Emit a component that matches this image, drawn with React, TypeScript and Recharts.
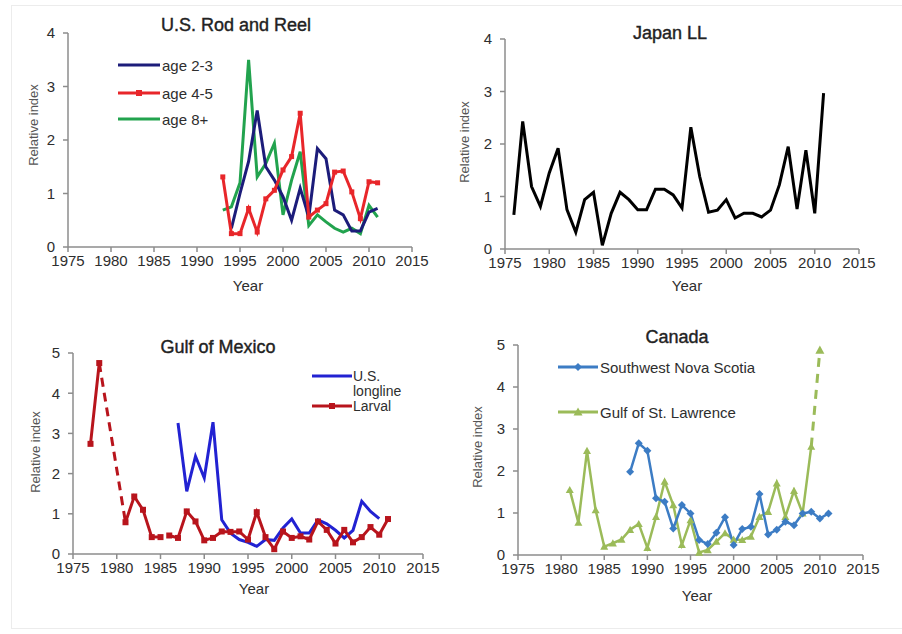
import React from 'react';
import { LineChart, Line, XAxis, YAxis } from 'recharts';

const FONT = '"Liberation Sans", Arial, sans-serif';
const yearTicks = [1975, 1980, 1985, 1990, 1995, 2000, 2005, 2010, 2015];

// U.S. Rod and Reel
const rodYears = [1993, 1994, 1995, 1996, 1997, 1998, 1999, 2000, 2001, 2002, 2003, 2004, 2005, 2006, 2007, 2008, 2009, 2010, 2011];
const rodAge23 = [null, 0.35, 1.0, 1.6, 2.55, 1.5, 1.25, 0.94, 0.5, 1.1, 0.56, 1.84, 1.65, 0.69, 0.6, 0.3, 0.3, 0.65, 0.72];
const rodAge45 = [1.31, 0.25, 0.25, 0.72, 0.28, 0.9, 1.06, 1.44, 1.69, 2.5, 0.56, 0.69, 0.81, 1.4, 1.42, 1.03, 0.53, 1.22, 1.2];
const rodAge8 = [0.69, 0.75, 1.2, 3.5, 1.31, 1.56, 1.94, 0.6, 1.25, 1.78, 0.4, 0.6, 0.47, 0.35, 0.28, 0.35, 0.25, 0.78, 0.56];

// Japan LL
const japanYears = [1976, 1977, 1978, 1979, 1980, 1981, 1982, 1983, 1984, 1985, 1986, 1987, 1988, 1989, 1990, 1991, 1992, 1993, 1994, 1995, 1996, 1997, 1998, 1999, 2000, 2001, 2002, 2003, 2004, 2005, 2006, 2007, 2008, 2009, 2010, 2011];
const japanLL = [0.65, 2.43, 1.19, 0.81, 1.45, 1.92, 0.75, 0.32, 0.94, 1.08, 0.07, 0.68, 1.08, 0.94, 0.75, 0.75, 1.14, 1.14, 1.03, 0.78, 2.32, 1.38, 0.7, 0.74, 0.94, 0.59, 0.68, 0.68, 0.61, 0.74, 1.22, 1.95, 0.76, 1.88, 0.68, 2.97];

// Gulf of Mexico
const gulfYears = [1977, 1978, 1979, 1980, 1981, 1982, 1983, 1984, 1985, 1986, 1987, 1988, 1989, 1990, 1991, 1992, 1993, 1994, 1995, 1996, 1997, 1998, 1999, 2000, 2001, 2002, 2003, 2004, 2005, 2006, 2007, 2008, 2009, 2010, 2011];
const gulfLarval = [2.74, 4.75, null, null, 0.79, 1.43, 1.1, 0.42, 0.42, 0.46, 0.4, 1.06, 0.81, 0.34, 0.4, 0.56, 0.55, 0.56, 0.36, 1.04, 0.42, 0.12, 0.56, 0.4, 0.44, 0.36, 0.81, 0.6, 0.26, 0.6, 0.29, 0.42, 0.67, 0.48, 0.87];
const gulfLongline = [null, null, null, null, null, null, null, null, null, null, 3.26, 1.56, 2.43, 1.89, 3.28, 0.85, 0.52, 0.36, 0.29, 0.19, 0.36, 0.34, 0.65, 0.87, 0.52, 0.52, 0.85, 0.75, 0.59, 0.4, 0.59, 1.31, 1.06, 0.88, null];
const larvalBreakYear = 1986; // survey series restarts here

// Canada
const canadaYears = [1981, 1982, 1983, 1984, 1985, 1986, 1987, 1988, 1989, 1990, 1991, 1992, 1993, 1994, 1995, 1996, 1997, 1998, 1999, 2000, 2001, 2002, 2003, 2004, 2005, 2006, 2007, 2008, 2009, 2010, 2011];
const novaScotia = [null, null, null, null, null, null, null, 1.98, 2.66, 2.48, 1.35, 1.27, 0.63, 1.19, 0.99, 0.36, 0.26, 0.53, 0.9, 0.24, 0.62, 0.67, 1.45, 0.49, 0.6, 0.79, 0.71, 0.99, 1.03, 0.87, 0.99];
const stLawrence = [1.55, 0.77, 2.48, 1.07, 0.2, 0.28, 0.37, 0.6, 0.74, 0.17, 0.91, 1.75, 1.19, 0.24, 0.83, 0.06, 0.12, 0.32, 0.52, 0.37, 0.36, 0.44, 0.91, 1.03, 1.71, 0.91, 1.53, 0.99, 2.58, 4.88, null];
const lawrenceDashFrom = 2009; // last point is provisional

const rodData = rodYears.map((year, i) => ({ year, age23: rodAge23[i], age45: rodAge45[i], age8: rodAge8[i] }));
const japanData = japanYears.map((year, i) => ({ year, ll: japanLL[i] }));

// larval: solid pieces around the missing years, dashed bridge across them
const gapFirst = gulfLarval.indexOf(null);
const gapLast = gulfLarval.lastIndexOf(null);
const gulfData = gulfYears.map((year, i) => ({
  year,
  longline: gulfLongline[i],
  larvalA: year < larvalBreakYear ? gulfLarval[i] : null,
  larvalB: year >= larvalBreakYear ? gulfLarval[i] : null,
  larvalGap: i === gapFirst - 1 || i === gapLast + 1 ? gulfLarval[i] : null,
}));

const canadaData = canadaYears.map((year, i) => ({
  year,
  nova: novaScotia[i],
  lawrence: year <= lawrenceDashFrom ? stLawrence[i] : null,
  lawrenceDash: year >= lawrenceDashFrom ? stLawrence[i] : null,
}));

const C = {
  navy: '#1c1c7a',
  red: '#e8262a',
  green: '#22a34e',
  gulfBlue: '#2222d2',
  larval: '#b8141c',
  novaBlue: '#3c7cc4',
  lawrence: '#9bbb59',
};

const squareDot = (color: string, size: number) => (p: any) => {
  if (p.cy == null || p.value == null) return <g key={p.index} />;
  return <rect key={p.index} x={p.cx - size / 2} y={p.cy - size / 2} width={size} height={size} fill={color} />;
};
const diamondDot = (color: string, r: number) => (p: any) => {
  if (p.cy == null || p.value == null) return <g key={p.index} />;
  const { cx, cy } = p;
  return <polygon key={p.index} points={`${cx},${cy - r} ${cx + r},${cy} ${cx},${cy + r} ${cx - r},${cy}`} fill={color} />;
};
const triangleDot = (color: string, r: number, minYear = 0) => (p: any) => {
  if (p.cy == null || p.value == null || p.payload.year <= minYear) return <g key={p.index} />;
  const { cx, cy } = p;
  return <polygon key={p.index} points={`${cx},${cy - r} ${cx + r},${cy + r * 0.8} ${cx - r},${cy + r * 0.8}`} fill={color} />;
};

type Plot = { x0: number; x1: number; y0: number; y1: number };

function Panel({ plot, yMax, data, children }: { plot: Plot; yMax: number; data: any[]; children: React.ReactNode }) {
  const padL = 70, padT = 30, padR = 40, padB = 50;
  const yTicks = Array.from({ length: yMax + 1 }, (_, i) => i);
  const axisStyle = { stroke: '#8c8c8c', strokeWidth: 1.5 };
  const tickStyle = { fontSize: 15, fill: '#2e2e2e', fontFamily: FONT };
  return (
    <div style={{ position: 'absolute', left: plot.x0 - padL, top: plot.y0 - padT }}>
      <LineChart
        width={plot.x1 - plot.x0 + padL + padR}
        height={plot.y1 - plot.y0 + padT + padB}
        data={data}
        margin={{ top: padT, right: padR, bottom: padB - 30, left: padL - 40 }}
      >
        <XAxis
          type="number"
          dataKey="year"
          domain={[1975, 2015]}
          ticks={yearTicks}
          interval={0}
          height={30}
          axisLine={axisStyle}
          tickLine={axisStyle}
          tickSize={5}
          tickMargin={3}
          tick={tickStyle}
        />
        <YAxis
          type="number"
          domain={[0, yMax]}
          ticks={yTicks}
          interval={0}
          width={40}
          axisLine={axisStyle}
          tickLine={axisStyle}
          tickSize={5}
          tickMargin={8}
          tick={tickStyle}
        />
        {children}
      </LineChart>
    </div>
  );
}

function Txt({ x, y, size = 15, color = '#2e2e2e', rotate = 0, anchor = 'middle', heavy = false, children }: any) {
  const tx = anchor === 'middle' ? '-50%' : '0';
  return (
    <div
      style={{
        position: 'absolute',
        left: x,
        top: y,
        transform: `translate(${tx}, -50%) rotate(${rotate}deg)`,
        transformOrigin: anchor === 'middle' ? 'center' : 'left center',
        fontFamily: FONT,
        fontSize: size,
        color,
        whiteSpace: 'nowrap',
        lineHeight: 1,
        WebkitTextStroke: heavy ? `0.4px ${color}` : undefined,
      }}
    >
      {children}
    </div>
  );
}

function LegendKey({ x, y, w, color, marker }: { x: number; y: number; w: number; color: string; marker?: string }) {
  const m = w / 2;
  return (
    <svg style={{ position: 'absolute', left: x, top: y - 6 }} width={w} height={12}>
      <line x1={0} y1={6} x2={w} y2={6} stroke={color} strokeWidth={3} />
      {marker === 'square' && <rect x={m - 3} y={3} width={6} height={6} fill={color} />}
      {marker === 'diamond' && <polygon points={`${m},2 ${m + 4},6 ${m},10 ${m - 4},6`} fill={color} />}
      {marker === 'triangle' && <polygon points={`${m},1.5 ${m + 4.5},9.5 ${m - 4.5},9.5`} fill={color} />}
    </svg>
  );
}

export default function App() {
  return (
    <div style={{ position: 'absolute', left: 0, top: 0, width: 902, height: 634, background: '#fff', overflow: 'hidden' }}>
      <div
        style={{
          position: 'absolute',
          left: 11,
          top: 5,
          width: 900,
          height: 622,
          borderLeft: '1px solid #ececec',
          borderTop: '1px solid #ececec',
          borderBottom: '1px solid #ececec',
        }}
      />

      {/* U.S. Rod and Reel */}
      <Panel plot={{ x0: 68, x1: 412, y0: 33, y1: 247 }} yMax={4} data={rodData}>
        <Line dataKey="age8" stroke={C.green} strokeWidth={3} dot={false} isAnimationActive={false} />
        <Line dataKey="age23" stroke={C.navy} strokeWidth={3} dot={false} isAnimationActive={false} />
        <Line dataKey="age45" stroke={C.red} strokeWidth={3} dot={squareDot(C.red, 5)} isAnimationActive={false} />
      </Panel>
      <Txt x={236} y={25} size={18} color="#222" heavy>U.S. Rod and Reel</Txt>
      <Txt x={33} y={125} size={13} color="#555" rotate={-90}>Relative index</Txt>
      <Txt x={248} y={285}>Year</Txt>
      <LegendKey x={118} y={65} w={42} color={C.navy} />
      <Txt x={162} y={65} anchor="start">age 2-3</Txt>
      <LegendKey x={118} y={93} w={42} color={C.red} marker="square" />
      <Txt x={162} y={93} anchor="start">age 4-5</Txt>
      <LegendKey x={118} y={119} w={42} color={C.green} />
      <Txt x={162} y={119} anchor="start">age 8+</Txt>

      {/* Japan LL */}
      <Panel plot={{ x0: 505, x1: 859, y0: 39, y1: 249 }} yMax={4} data={japanData}>
        <Line dataKey="ll" stroke="#000" strokeWidth={3} dot={false} isAnimationActive={false} />
      </Panel>
      <Txt x={670} y={33} size={18} color="#222" heavy>Japan LL</Txt>
      <Txt x={464} y={142} size={13} color="#555" rotate={-90}>Relative index</Txt>
      <Txt x={687} y={285}>Year</Txt>

      {/* Gulf of Mexico */}
      <Panel plot={{ x0: 73, x1: 423, y0: 353, y1: 554 }} yMax={5} data={gulfData}>
        <Line dataKey="longline" stroke={C.gulfBlue} strokeWidth={3} dot={false} isAnimationActive={false} />
        <Line dataKey="larvalGap" stroke={C.larval} strokeWidth={3} strokeDasharray="9 6" connectNulls dot={false} isAnimationActive={false} />
        <Line dataKey="larvalA" stroke={C.larval} strokeWidth={3} dot={squareDot(C.larval, 6)} isAnimationActive={false} />
        <Line dataKey="larvalB" stroke={C.larval} strokeWidth={3} dot={squareDot(C.larval, 6)} isAnimationActive={false} />
      </Panel>
      <Txt x={218} y={347} size={18} color="#222" heavy>Gulf of Mexico</Txt>
      <Txt x={35} y={452} size={13} color="#555" rotate={-90}>Relative index</Txt>
      <Txt x={254} y={588}>Year</Txt>
      <LegendKey x={312} y={376} w={40} color={C.gulfBlue} />
      <Txt x={353} y={376} size={14} anchor="start">U.S.</Txt>
      <Txt x={353} y={391} size={14} anchor="start">longline</Txt>
      <LegendKey x={312} y={406} w={40} color={C.larval} marker="square" />
      <Txt x={353} y={406} size={14} anchor="start">Larval</Txt>

      {/* Canada */}
      <Panel plot={{ x0: 518, x1: 863, y0: 345, y1: 555 }} yMax={5} data={canadaData}>
        <Line dataKey="lawrenceDash" stroke={C.lawrence} strokeWidth={3} strokeDasharray="9 7" dot={triangleDot(C.lawrence, 4.5, lawrenceDashFrom)} isAnimationActive={false} />
        <Line dataKey="lawrence" stroke={C.lawrence} strokeWidth={2.5} dot={triangleDot(C.lawrence, 4)} isAnimationActive={false} />
        <Line dataKey="nova" stroke={C.novaBlue} strokeWidth={2.5} dot={diamondDot(C.novaBlue, 4)} isAnimationActive={false} />
      </Panel>
      <Txt x={677} y={337} size={18} color="#222" heavy>Canada</Txt>
      <Txt x={477} y={447} size={13} color="#555" rotate={-90}>Relative index</Txt>
      <Txt x={697} y={595}>Year</Txt>
      <LegendKey x={558} y={367} w={40} color={C.novaBlue} marker="diamond" />
      <Txt x={600} y={367} anchor="start">Southwest Nova Scotia</Txt>
      <LegendKey x={558} y={412} w={40} color={C.lawrence} marker="triangle" />
      <Txt x={600} y={412} anchor="start">Gulf of St. Lawrence</Txt>
    </div>
  );
}
